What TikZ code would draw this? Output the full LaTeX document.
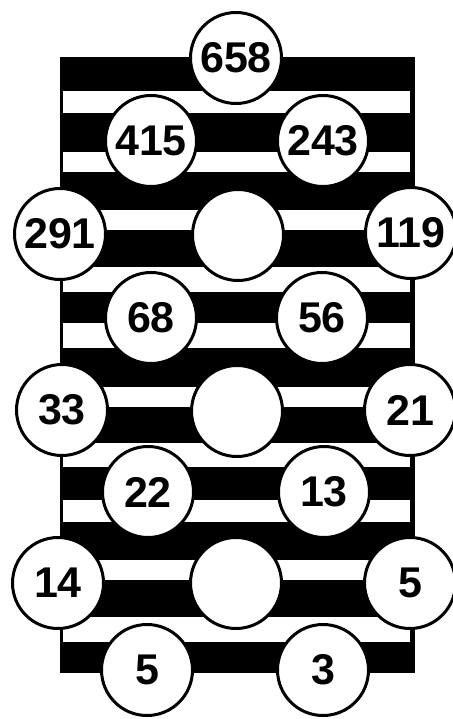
\documentclass[tikz,border=0pt]{standalone}
\usepackage{fontspec}
\setmainfont{Liberation Sans}

\begin{document}
\begin{tikzpicture}[x=1pt, y=-1pt,
  ball/.style={circle, draw=black, line width=3pt, fill=white, minimum size=91pt, inner sep=0pt, font=\fontsize{43}{43}\selectfont\bfseries},
  band/.style={fill=white}
]
\useasboundingbox (0,0) rectangle (452,719);
\fill[black] (60,57) rectangle (415,673);
\foreach \top/\bot in {91/113,152/172,210/230,267/292,323/348,387/407,443/467,500/522,560/580,617/642}
  \fill[band] (63,\top) rectangle (410,\bot);
\node[ball] (n658) at (236,58) {658};
\node[ball] (n415) at (151,141) {415};
\node[ball] (n243) at (323,141) {243};
\node[ball] (n291) at (60,234) {291};
\node[ball] (mid1) at (238,235) {};
\node[ball] (n119) at (411,233) {119};
\node[ball] (n68) at (151,318) {68};
\node[ball] (n56) at (322,318) {56};
\node[ball] (n33) at (62,410) {33};
\node[ball] (mid2) at (237,411) {};
\node[ball] (n21) at (410,410) {21};
\node[ball] (n22) at (148,492) {22};
\node[ball] (n13) at (324,492) {13};
\node[ball] (n14) at (58,583) {14};
\node[ball] (mid3) at (236,583) {};
\node[ball] (n5a) at (410,583) {5};
\node[ball] (n5b) at (147,670) {5};
\node[ball] (n3) at (323,670) {3};
\end{tikzpicture}
\end{document}
